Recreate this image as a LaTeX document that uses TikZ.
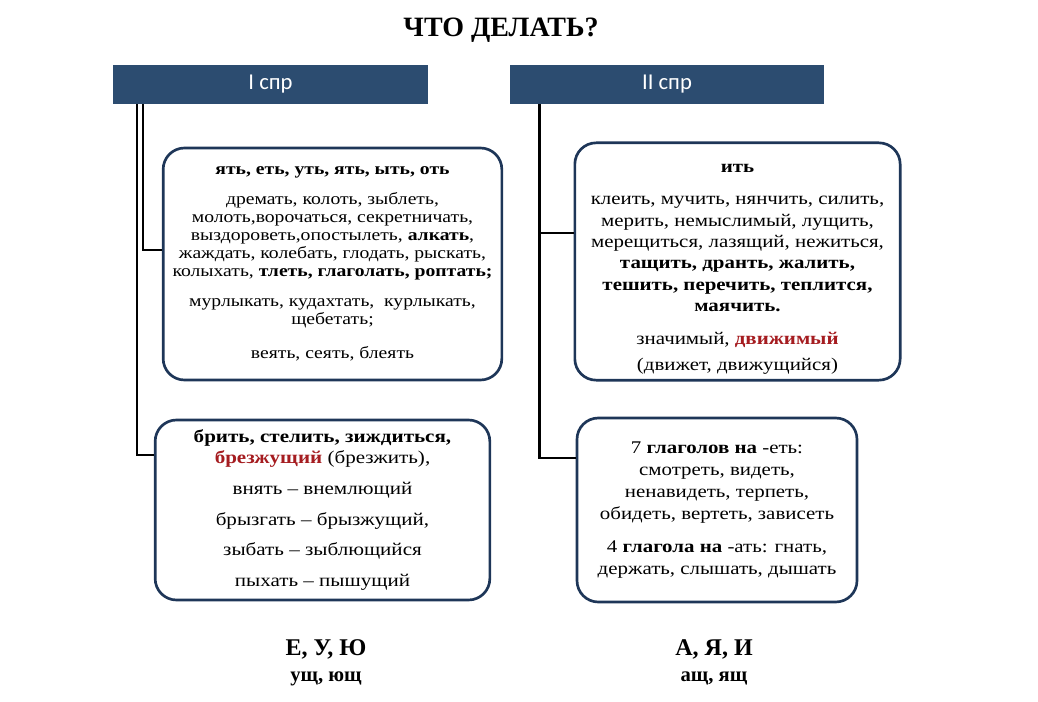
\documentclass[tikz,border=0pt]{standalone}
\usepackage{fontspec}
\setmainfont{Liberation Serif}
\newfontfamily\boxfont[FakeStretch=1.17, Ligatures=TeX]{Liberation Serif}
\newfontfamily\hdrfont{Carlito}
\usetikzlibrary{calc, positioning}
\definecolor{Sprblue}{RGB}{44,76,112}
\definecolor{Sprline}{RGB}{30,54,88}
\definecolor{Sprred}{RGB}{165,28,32}

\begin{document}
\begin{tikzpicture}[
  x=0.75pt, y=-0.75pt,
  hdr/.style={
    rectangle, fill=Sprblue, text=white,
    minimum width=236pt, minimum height=29pt, inner sep=0pt,
    font=\hdrfont\fontsize{17}{20}\selectfont
  },
  grp/.style={
    rectangle, rounded corners=16pt,
    draw=Sprline, line width=2pt, fill=white,
    align=center, inner sep=4pt
  },
  link/.style={line width=1.8pt, color=black},
  ttl/.style={font=\bfseries\fontsize{21}{24}\selectfont},
  vow/.style={font=\bfseries\fontsize{18}{20}\selectfont},
  suf/.style={font=\bfseries\fontsize{15.5}{17}\selectfont}
]
\useasboundingbox (0,0) rectangle (1038,702);

%% ── Заголовок ───────────────────────────────────────────────────────────
\node[ttl] (title) at (501, 30) {ЧТО ДЕЛАТЬ?};

%% ── Спряжения ───────────────────────────────────────────────────────────
\node[hdr] (spr1) at (270.5, 84.5) {I спр};
\node[hdr] (spr2) at (667, 84.5)   {II спр};

%% ── Блоки I спр ─────────────────────────────────────────────────────────
\node[grp, minimum width=254pt, minimum height=174pt,
      font=\boxfont\fontsize{12.6}{13.5}\selectfont] (box1) at (332.5, 264)
  {\textbf{ять, еть, уть, ять, ыть, оть}\\[9pt]
   дремать, колоть, зыблеть,\\
   молоть,ворочаться, секретничать,\\
   выздороветь,опостылеть, \textbf{алкать},\\
   жаждать, колебать, глодать, рыскать,\\
   колыхать, \textbf{тлеть, глаголать, роптать;}\\[9pt]
   мурлыкать, кудахтать,\ \ курлыкать,\\
   щебетать;\\[12pt]
   веять, сеять, блеять};

\node[grp, minimum width=251pt, minimum height=135pt,
      font=\boxfont\fontsize{13.5}{16}\selectfont] (box3) at (322.5, 510)
  {\textbf{брить, стелить, зиждиться,}\\
   \textcolor{Sprred}{\textbf{брезжущий}} (брезжить),\\[7pt]
   внять – внемлющий\\[7pt]
   брызгать – брызжущий,\\[7pt]
   зыбать – зыблющийся\\[7pt]
   пыхать – пышущий};

%% ── Блоки II спр ────────────────────────────────────────────────────────
\node[grp, minimum width=244pt, minimum height=178pt,
      font=\boxfont\fontsize{13.4}{16}\selectfont] (box2) at (737.5, 261.5)
  {\rule{0pt}{18pt}\textbf{ить}\\[8pt]
   клеить, мучить, нянчить, силить,\\
   мерить, немыслимый, лущить,\\
   мерещиться, лазящий, нежиться,\\
   \textbf{тащить, дранть, жалить,}\\
   \textbf{тешить, перечить, теплится,}\\
   \textbf{маячить.}\\[9pt]
   значимый, \textcolor{Sprred}{\textbf{движимый}}\\[3pt]
   (движет, движущийся)};

\node[grp, minimum width=210pt, minimum height=138pt,
      font=\boxfont\fontsize{13.4}{16.5}\selectfont] (box4) at (717, 510)
  {7 \textbf{глаголов на} -еть:\\
   смотреть, видеть,\\
   ненавидеть, терпеть,\\
   обидеть, вертеть, зависеть\\[8pt]
   4 \textbf{глагола на} -ать: гнать,\\
   держать, слышать, дышать};

%% ── Окончания ───────────────────────────────────────────────────────────
\node[vow] (end1) at (326, 649) {Е, У, Ю};
\node[suf, below=3pt of end1] (suf1) {ущ, ющ};
\node[vow] (end2) at (714, 649) {А, Я, И};
\node[suf, below=3pt of end2] (suf2) {ащ, ящ};

%% ── Связи ───────────────────────────────────────────────────────────────
\coordinate (l1) at ($(spr1.south west)+(30,0)$);
\coordinate (l3) at ($(spr1.south west)+(24,0)$);
\coordinate (r2) at ($(spr2.south west)+(30,0)$);

\draw[link] (l1) |- ($(box1.north west)!0.44!(box1.south west)$);
\draw[link] (l3) |- ($(box3.north west)!0.2!(box3.south west)$);
\draw[link] (r2) |- ($(box2.north west)!0.38!(box2.south west)$);
\draw[link] (r2) |- ($(box4.north west)!0.22!(box4.south west)$);

\end{tikzpicture}
\end{document}
